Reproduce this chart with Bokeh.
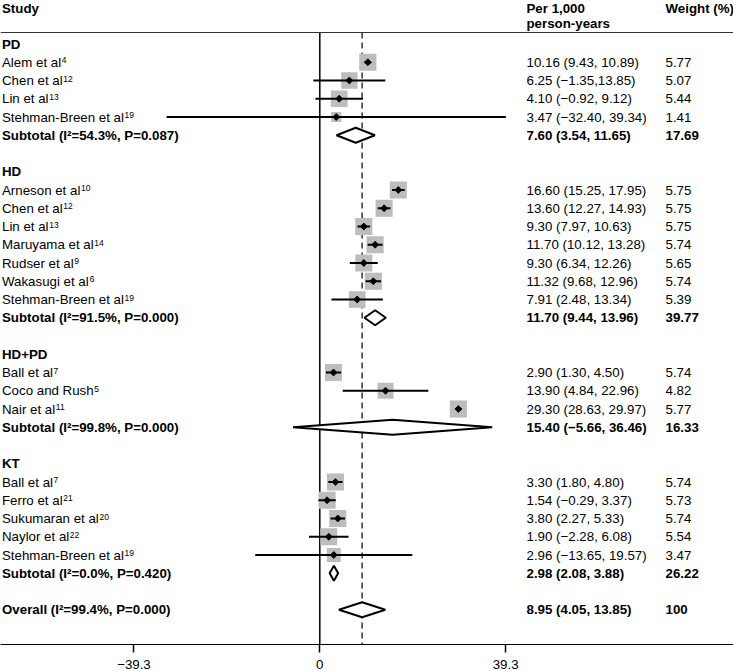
import math
from bokeh.plotting import figure
from bokeh.models import Range1d, LinearAxis, FixedTicker, ColumnDataSource, Span
from bokeh.embed import file_html
from bokeh.resources import INLINE
from bokeh.core.properties import value

# ---------------- data ----------------
group_names = ["PD", "HD", "HD+PD", "KT"]

pd_studies = ["Alem et al", "Chen et al", "Lin et al", "Stehman-Breen et al"]
pd_refs = ["4", "12", "13", "19"]
pd_est = [10.16, 6.25, 4.10, 3.47]
pd_lo = [9.43, -1.35, -0.92, -32.40]
pd_hi = [10.89, 13.85, 9.12, 39.34]
pd_weight = [5.77, 5.07, 5.44, 1.41]
pd_ci_text = ["10.16 (9.43, 10.89)", "6.25 (−1.35,13.85)", "4.10 (−0.92, 9.12)", "3.47 (−32.40, 39.34)"]

hd_studies = ["Arneson et al", "Chen et al", "Lin et al", "Maruyama et al",
              "Rudser et al", "Wakasugi et al", "Stehman-Breen et al"]
hd_refs = ["10", "12", "13", "14", "9", "6", "19"]
hd_est = [16.60, 13.60, 9.30, 11.70, 9.30, 11.32, 7.91]
hd_lo = [15.25, 12.27, 7.97, 10.12, 6.34, 9.68, 2.48]
hd_hi = [17.95, 14.93, 10.63, 13.28, 12.26, 12.96, 13.34]
hd_weight = [5.75, 5.75, 5.75, 5.74, 5.65, 5.74, 5.39]
hd_ci_text = ["16.60 (15.25, 17.95)", "13.60 (12.27, 14.93)", "9.30 (7.97, 10.63)", "11.70 (10.12, 13.28)",
              "9.30 (6.34, 12.26)", "11.32 (9.68, 12.96)", "7.91 (2.48, 13.34)"]

hdpd_studies = ["Ball et al", "Coco and Rush", "Nair et al"]
hdpd_refs = ["7", "5", "11"]
hdpd_est = [2.90, 13.90, 29.30]
hdpd_lo = [1.30, 4.84, 28.63]
hdpd_hi = [4.50, 22.96, 29.97]
hdpd_weight = [5.74, 4.82, 5.77]
hdpd_ci_text = ["2.90 (1.30, 4.50)", "13.90 (4.84, 22.96)", "29.30 (28.63, 29.97)"]

kt_studies = ["Ball et al", "Ferro et al", "Sukumaran et al", "Naylor et al", "Stehman-Breen et al"]
kt_refs = ["7", "21", "20", "22", "19"]
kt_est = [3.30, 1.54, 3.80, 1.90, 2.96]
kt_lo = [1.80, -0.29, 2.27, -2.28, -13.65]
kt_hi = [4.80, 3.37, 5.33, 6.08, 19.57]
kt_weight = [5.74, 5.73, 5.74, 5.54, 3.47]
kt_ci_text = ["3.30 (1.80, 4.80)", "1.54 (−0.29, 3.37)", "3.80 (2.27, 5.33)", "1.90 (−2.28, 6.08)", "2.96 (−13.65, 19.57)"]

sub_est = [7.60, 11.70, 15.40, 2.98]
sub_lo = [3.54, 9.44, -5.66, 2.08]
sub_hi = [11.65, 13.96, 36.46, 3.88]
sub_weight = [17.69, 39.77, 16.33, 26.22]
sub_i2 = [54.3, 91.5, 99.8, 0.0]
sub_p = [0.087, 0.000, 0.000, 0.420]
sub_ci_text = ["7.60 (3.54, 11.65)", "11.70 (9.44, 13.96)", "15.40 (−5.66, 36.46)", "2.98 (2.08, 3.88)"]

overall_est = 8.95
overall_lo = 4.05
overall_hi = 13.85
overall_i2 = 99.4
overall_p = 0.000
overall_ci_text = "8.95 (4.05, 13.85)"
overall_weight_text = "100"

axis_ticks = [-39.3, 0, 39.3]
axis_tick_labels = ["−39.3", "0", "39.3"]

header_study = "Study"
header_est = ["Per 1,000", "person-years"]
header_weight = "Weight (%)"

# ---------------- layout ----------------
W, H = 733, 671
X0 = 319.3          # pixel of x = 0
PX_UNIT = 4.729     # pixels per unit
ROW0 = 43.5         # pixel of first row
ROW_H = 18.25       # row height
AXIS_PANEL = 27     # expected height of the axis panel
FRAME_H = H - AXIS_PANEL

def rx(X):
    return (X - X0) / PX_UNIT

def ry(Y):
    return (Y - ROW0) / ROW_H

FONT = value("Liberation Sans")
FS_PX = 13.3
FS = f"{FS_PX}px"
SUP_FS = "8.5px"

# Arial / Liberation Sans advance widths (per 1000 em)
CHAR_W = {"A": 667, "B": 667, "C": 722, "F": 611, "L": 556, "M": 833, "N": 722, "R": 722,
          "S": 667, "W": 944, "a": 556, "c": 500, "d": 556, "e": 556, "g": 556, "h": 556,
          "i": 222, "k": 500, "l": 222, "m": 833, "n": 556, "o": 556, "r": 333, "s": 500,
          "t": 278, "u": 556, "y": 500, " ": 278, "-": 333}

def text_w(s):
    return sum(CHAR_W.get(c, 556) for c in s) * FS_PX / 1000.0

p = figure(width=W, height=H, output_backend="svg", toolbar_location=None,
           x_axis_type=None, y_axis_type=None,
           x_range=Range1d(rx(0), rx(W)),
           y_range=Range1d(ry(FRAME_H), ry(0)))
p.min_border = 0
p.outline_line_color = None
p.background_fill_color = "white"
p.border_fill_color = "white"
p.grid.visible = False

groups = [
    (pd_studies, pd_refs, pd_est, pd_lo, pd_hi, pd_weight, pd_ci_text),
    (hd_studies, hd_refs, hd_est, hd_lo, hd_hi, hd_weight, hd_ci_text),
    (hdpd_studies, hdpd_refs, hdpd_est, hdpd_lo, hdpd_hi, hdpd_weight, hdpd_ci_text),
    (kt_studies, kt_refs, kt_est, kt_lo, kt_hi, kt_weight, kt_ci_text),
]

st = dict(y=[], est=[], lo=[], hi=[], size=[], label=[], ci=[], w=[])
sup = dict(x=[], y=[], text=[])
bold = dict(x=[], y=[], text=[])
dia_xs, dia_ys = [], []
H_DIA = 7.5 / ROW_H

COL1, COL2, COL3 = rx(1.5), rx(526), rx(665)

row = 0
for gi, (names, refs, est, lo, hi, wt, cit) in enumerate(groups):
    bold["x"].append(COL1); bold["y"].append(row); bold["text"].append(group_names[gi])
    row += 1
    for k in range(len(names)):
        st["y"].append(row); st["est"].append(est[k]); st["lo"].append(lo[k]); st["hi"].append(hi[k])
        st["size"].append(3.2 + 5.8 * math.sqrt(wt[k]))
        st["label"].append(names[k]); st["ci"].append(cit[k]); st["w"].append(f"{wt[k]:.2f}")
        sup["x"].append(COL1 + (text_w(names[k]) + 0.6) / PX_UNIT)
        sup["y"].append(row - 2.0 / ROW_H)
        sup["text"].append(refs[k])
        row += 1
    lab = f"Subtotal (I²={sub_i2[gi]:.1f}%, P={sub_p[gi]:.3f})"
    for xx, tt in ((COL1, lab), (COL2, sub_ci_text[gi]), (COL3, f"{sub_weight[gi]:.2f}")):
        bold["x"].append(xx); bold["y"].append(row); bold["text"].append(tt)
    dia_xs.append([sub_lo[gi], sub_est[gi], sub_hi[gi], sub_est[gi]])
    dia_ys.append([row, row - H_DIA, row, row + H_DIA])
    row += 2

lab = f"Overall (I²={overall_i2:.1f}%, P={overall_p:.3f})"
for xx, tt in ((COL1, lab), (COL2, overall_ci_text), (COL3, overall_weight_text)):
    bold["x"].append(xx); bold["y"].append(row); bold["text"].append(tt)
dia_xs.append([overall_lo, overall_est, overall_hi, overall_est])
dia_ys.append([row, row - H_DIA, row, row + H_DIA])

# headers
for xx, yy, tt in ((COL1, 7.5, header_study), (COL2, 7.5, header_est[0]),
                   (COL2, 23.0, header_est[1]), (COL3, 7.5, header_weight)):
    bold["x"].append(xx); bold["y"].append(ry(yy)); bold["text"].append(tt)

p.add_layout(Span(location=ry(32), dimension="width", line_color="#333333", line_width=1))

# reference lines
p.segment(x0=[0], x1=[0], y0=[ry(32)], y1=[ry(FRAME_H)], line_color="black", line_width=1.5)
p.segment(x0=[overall_est], x1=[overall_est], y0=[ry(32)], y1=[ry(FRAME_H)],
          line_color="#333333", line_width=1.5, line_dash="6 4")

src = ColumnDataSource(st)
p.rect(x="est", y="y", width="size", height="size", width_units="screen", height_units="screen",
       source=src, fill_color="#bdbdbd", line_color=None)
p.segment(x0="lo", x1="hi", y0="y", y1="y", source=src, line_color="black", line_width=2)
p.scatter(x="est", y="y", source=src, marker="square", angle=math.pi / 4, size=4.8,
          fill_color="black", line_color="black")

p.patches(xs=dia_xs, ys=dia_ys, fill_color="white", line_color="black", line_width=2)

# texts
n = len(st["y"])
st_lab = dict(x=[COL1] * n + [COL2] * n + [COL3] * n,
              y=st["y"] * 3, text=st["label"] + st["ci"] + st["w"])
p.text(x="x", y="y", text="text", source=ColumnDataSource(st_lab), text_font=FONT,
       text_font_size=FS, text_baseline="middle", text_align="left", text_color="black")
p.text(x="x", y="y", text="text", source=ColumnDataSource(sup), text_font=FONT,
       text_font_size=SUP_FS, text_baseline="middle", text_align="left", text_color="black")
p.text(x="x", y="y", text="text", source=ColumnDataSource(bold), text_font=FONT,
       text_font_size=FS, text_font_style="bold", text_baseline="middle", text_align="left",
       text_color="black")

xaxis = LinearAxis(ticker=FixedTicker(ticks=axis_ticks),
                   major_label_overrides=dict(zip(axis_ticks, axis_tick_labels)))
xaxis.axis_line_color = "black"
xaxis.axis_line_width = 1
xaxis.major_tick_in = 0
xaxis.major_tick_out = 8
xaxis.major_tick_line_color = "black"
xaxis.major_tick_line_width = 1.5
xaxis.minor_tick_line_color = None
xaxis.major_label_standoff = 7
xaxis.major_label_text_font = "Liberation Sans"
xaxis.major_label_text_font_size = FS
xaxis.major_label_text_color = "black"
p.add_layout(xaxis, "below")

open("out.html", "w").write(file_html(p, INLINE))
